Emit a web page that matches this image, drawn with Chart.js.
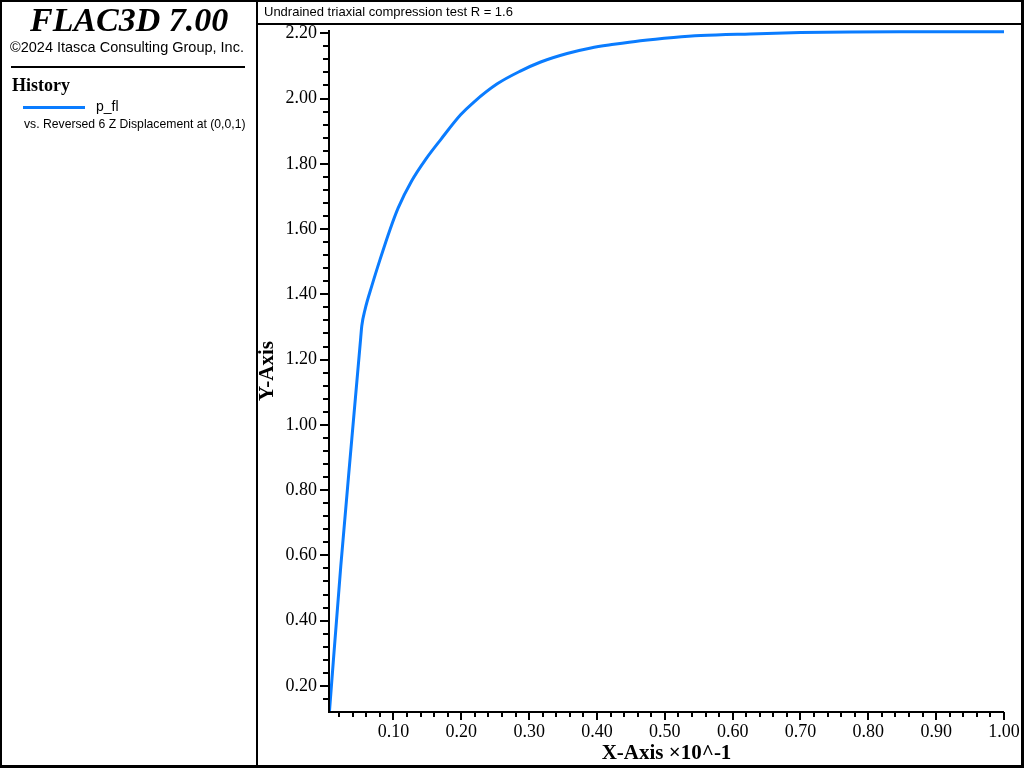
<!DOCTYPE html>
<html>
<head>
<meta charset="utf-8">
<script src="https://cdn.jsdelivr.net/npm/chart.js@4"></script>
<style>
  body { margin: 0; background: #fff; }
  #wrap { position: relative; width: 1024px; height: 768px; overflow: hidden; }
  #chart { position: absolute; left: 0; top: 0; }
  .ln { position: absolute; background: #000; }
  .txt { position: absolute; white-space: nowrap; color: #000; }
</style>
</head>
<body>
<div id="wrap">
  <canvas id="chart" width="1024" height="768"></canvas>

  <!-- frame -->
  <div class="ln" style="left:0;top:0;width:1024px;height:2px"></div>
  <div class="ln" style="left:0;top:765px;width:1024px;height:3px"></div>
  <div class="ln" style="left:0;top:0;width:2px;height:768px"></div>
  <div class="ln" style="left:1021px;top:0;width:3px;height:768px"></div>
  <div class="ln" style="left:256px;top:0;width:2px;height:768px"></div>
  <div class="ln" style="left:256px;top:23px;width:768px;height:2px"></div>
  <div class="ln" style="left:11px;top:66px;width:234px;height:2px"></div>

  <!-- left panel -->
  <div class="txt" style="left:30px;top:1px;font:italic bold 34px 'Liberation Serif';">FLAC3D 7.00</div>
  <div class="txt" style="left:10px;top:39px;font:14.5px 'Liberation Sans';">©2024 Itasca Consulting Group, Inc.</div>
  <div class="txt" style="left:12px;top:75px;font:bold 18px 'Liberation Serif';">History</div>
  <div class="ln" style="left:23px;top:106px;width:62px;height:3px;background:#0a7cff"></div>
  <div class="txt" style="left:96px;top:98px;font:14px 'Liberation Sans';">p_fl</div>
  <div class="txt" style="left:24px;top:117px;font:12.2px 'Liberation Sans';">vs. Reversed 6 Z Displacement at (0,0,1)</div>

  <!-- title bar -->
  <div class="txt" style="left:264px;top:4px;font:13px 'Liberation Sans';">Undrained triaxial compression test R = 1.6</div>
</div>

<script>
// history: reversed z displacement (x 10^-1) vs pore pressure p_fl
const xValues = [0.0057, 0.0224, 0.0386, 0.0518, 0.0533, 0.0582, 0.068, 0.0803, 0.095, 0.107,
  0.127, 0.148, 0.170, 0.199, 0.219, 0.253, 0.287, 0.317, 0.356, 0.391, 0.425,
  0.464, 0.513, 0.553, 0.626, 0.700, 0.773, 0.847, 0.920, 1.000];
const yValues = [0.123, 0.568, 0.956, 1.268, 1.303, 1.354, 1.425, 1.507, 1.599, 1.665,
  1.748, 1.815, 1.875, 1.950, 1.990, 2.045, 2.084, 2.112, 2.138, 2.155, 2.166,
  2.177, 2.187, 2.193, 2.198, 2.202, 2.204, 2.205, 2.205, 2.205];

const xMajorTicks = [0.10, 0.20, 0.30, 0.40, 0.50, 0.60, 0.70, 0.80, 0.90, 1.00];
const yMajorTicks = [0.20, 0.40, 0.60, 0.80, 1.00, 1.20, 1.40, 1.60, 1.80, 2.00, 2.20];

const lineColor = "#0a7cff";

function minorTicks(from, to, step) {
  let out = [];
  for (let v = from; v <= to + 1e-9; v += step) out.push(Math.round(v * 1000) / 1000);
  return out;
}

function isMajor(list, v) {
  return list.some((m) => Math.abs(m - v) < 1e-6);
}

let points = xValues.map((x, i) => ({ x: x, y: yValues[i] }));

// axis lines and tick marks, major ones longer
const axisPlugin = {
  id: "axisPlugin",
  afterDraw(chart) {
    let ctx = chart.ctx;
    let a = chart.chartArea;
    let xs = chart.scales.x;
    let ys = chart.scales.y;
    ctx.save();
    ctx.strokeStyle = "#000";
    ctx.lineWidth = 2;
    ctx.beginPath();
    ctx.moveTo(a.left, a.top);
    ctx.lineTo(a.left, a.bottom);
    ctx.lineTo(a.right, a.bottom);
    ctx.stroke();

    xs.ticks.forEach((t) => {
      let px = Math.round(xs.getPixelForValue(t.value));
      let len = isMajor(xMajorTicks, t.value) ? 8 : 5;
      ctx.beginPath();
      ctx.moveTo(px, a.bottom);
      ctx.lineTo(px, a.bottom + len);
      ctx.stroke();
    });
    ys.ticks.forEach((t) => {
      let py = Math.round(ys.getPixelForValue(t.value));
      let len = isMajor(yMajorTicks, t.value) ? 9 : 6;
      ctx.beginPath();
      ctx.moveTo(a.left, py);
      ctx.lineTo(a.left - len, py);
      ctx.stroke();
    });
    ctx.restore();
  },
};

new Chart(document.getElementById("chart"), {
  type: "line",
  data: {
    datasets: [
      {
        label: "p_fl",
        data: points,
        borderColor: lineColor,
        borderWidth: 3,
        pointRadius: 0,
        cubicInterpolationMode: "monotone",
        clip: false,
      },
    ],
  },
  options: {
    responsive: false,
    animation: false,
    layout: { padding: { left: 257, top: 30, right: 20, bottom: 3 } },
    plugins: { legend: { display: false }, tooltip: { enabled: false } },
    scales: {
      x: {
        type: "linear",
        min: 0.005,
        max: 1.0,
        grid: { display: false, drawTicks: false },
        border: { display: false },
        afterBuildTicks: (scale) => {
          scale.ticks = minorTicks(0.02, 1.0, 0.02).map((v) => ({ value: v }));
        },
        afterFit: (scale) => {
          scale.height = 53;
          scale.paddingLeft = 0;
          scale.paddingRight = 0;
        },
        ticks: {
          autoSkip: false,
          maxRotation: 0,
          padding: 9,
          color: "#000",
          font: { family: "Liberation Serif", size: 18 },
          callback: (v) => (isMajor(xMajorTicks, v) ? v.toFixed(2) : ""),
        },
        title: {
          display: true,
          text: "X-Axis \u00d710^-1",
          color: "#000",
          font: { family: "Liberation Serif", size: 21, weight: "bold", lineHeight: 1 },
          padding: { top: 0, bottom: 1 },
        },
      },
      y: {
        type: "linear",
        min: 0.12,
        max: 2.21,
        grid: { display: false, drawTicks: false },
        border: { display: false },
        afterBuildTicks: (scale) => {
          scale.ticks = minorTicks(0.16, 2.2, 0.04).map((v) => ({ value: v }));
        },
        afterFit: (scale) => {
          scale.width = 72;
          scale.paddingTop = 0;
          scale.paddingBottom = 0;
        },
        ticks: {
          autoSkip: false,
          padding: 12,
          color: "#000",
          font: { family: "Liberation Serif", size: 18 },
          callback: (v) => (isMajor(yMajorTicks, v) ? v.toFixed(2) : ""),
        },
        title: {
          display: true,
          text: "Y-Axis",
          color: "#000",
          font: { family: "Liberation Serif", size: 21, weight: "bold", lineHeight: 1 },
          padding: { top: 0, bottom: 0 },
        },
      },
    },
  },
  plugins: [axisPlugin],
});
</script>
</body>
</html>
